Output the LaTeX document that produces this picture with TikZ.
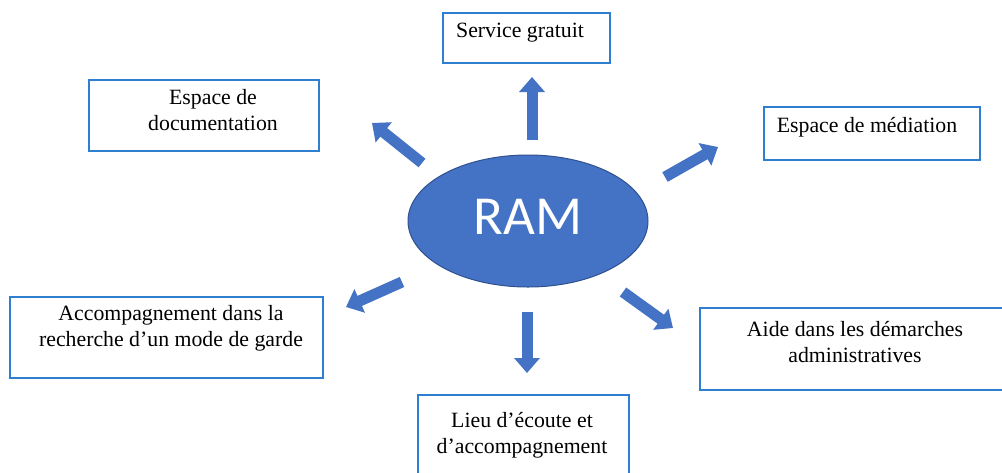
\documentclass[tikz,border=0pt]{standalone}
\usepackage{fontspec}
\setmainfont{Liberation Serif}
\newfontfamily\ramfont{Carlito}
\usetikzlibrary{arrows.meta}
\definecolor{ramblue}{HTML}{4472C4}
\definecolor{ramedge}{HTML}{2F528F}
\definecolor{boxedge}{HTML}{2E7FD0}
\tikzset{
  box/.style={draw=boxedge, line width=1.8pt, fill=white, inner sep=0pt},
  boxtext/.style={align=center, inner sep=0pt, font=\fontsize{21.8}{26}\selectfont},
  blockarrow/.style={draw=ramblue, line width=11pt, -{Triangle[width=25pt,length=15pt]}, ramblue},
}
\begin{document}
\begin{tikzpicture}[x=1pt,y=-1pt]
\useasboundingbox (0,0) rectangle (1002,472);
\fill[white] (0,0) rectangle (1002,472);

% boxes
\node[box, minimum width=167pt, minimum height=50pt] (bS) at (526.5,38) {};
\node[boxtext] (tS) at (520,33) {Service gratuit};

\node[box, minimum width=230pt, minimum height=71pt] (bD) at (204,115.5) {};
\node[boxtext] (tD) at (213,110) {Espace de\\documentation};

\node[box, minimum width=216pt, minimum height=53pt] (bM) at (872,133.5) {};
\node[boxtext] (tM) at (867,127) {Espace de médiation};

\node[box, minimum width=313pt, minimum height=81pt] (bA) at (166.5,337.5) {};
\node[boxtext] (tA) at (171,328) {Accompagnement dans la\\recherche d'un mode de garde};

\node[box, minimum width=306pt, minimum height=82pt] (bR) at (853,349) {};
\node[boxtext] (tR) at (855,342) {Aide dans les démarches\\administratives};

\node[box, minimum width=211pt, minimum height=90pt] (bL) at (523.5,440) {};
\node[boxtext] (tL) at (522,435) {Lieu d'écoute et\\d'accompagnement};

% central ellipse
\fill[ramblue, draw=ramedge, line width=1pt] (528,221) ellipse [x radius=120, y radius=66];
\node[font=\ramfont\fontsize{55}{60}\selectfont, text=white, inner sep=0pt] (ram) at (528,217) {RAM};

% arrow end points
\coordinate (uS) at (532,140); \coordinate (uE) at (532,77);
\coordinate (ulS) at (422,163); \coordinate (ulE) at (372,123);
\coordinate (urS) at (665,177); \coordinate (urE) at (718,147);
\coordinate (llS) at (402,282); \coordinate (llE) at (346,307);
\coordinate (dS) at (527,312); \coordinate (dE) at (527,373);
\coordinate (lrS) at (623,292); \coordinate (lrE) at (673,328);

\draw[blockarrow] (uS) -- (uE);
\draw[blockarrow] (ulS) -- (ulE);
\draw[blockarrow] (urS) -- (urE);
\draw[blockarrow] (llS) -- (llE);
\draw[blockarrow] (dS) -- (dE);
\draw[blockarrow] (lrS) -- (lrE);
\end{tikzpicture}
\end{document}
